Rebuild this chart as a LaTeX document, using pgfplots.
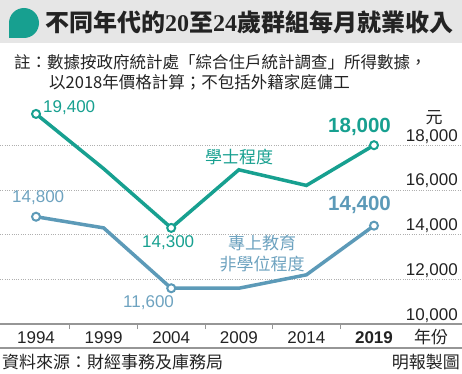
\documentclass[border=0pt]{standalone}
\usepackage{pgfplots}
\pgfplotsset{compat=1.18}
\usepackage{fontspec}
\setmainfont{Liberation Sans}
\newfontfamily\cjk{Noto Sans CJK TC}
\newfontfamily\serifd{Liberation Serif}
\definecolor{teal1}{RGB}{23,160,144}
\definecolor{blue1}{RGB}{92,154,184}
\definecolor{bluetext}{RGB}{110,163,192}
\definecolor{axisgray}{RGB}{150,150,150}
\definecolor{gridgray}{RGB}{175,175,175}
\definecolor{bandgray}{RGB}{230,230,230}
\definecolor{textdark}{RGB}{35,35,35}
\begin{document}
\begin{tikzpicture}[x=1pt,y=1pt]
\useasboundingbox (0,0) rectangle (462,373);
\fill[white] (0,0) rectangle (462,373);
% header band
\fill[bandgray] (0,330) rectangle (462,373);
\fill[teal1] (24,350) circle (15);
\fill[teal1] (9,350) rectangle (24,335);
\node[anchor=west, inner sep=0pt, text=textdark] at (45,351)
  {\fontsize{24}{24}\selectfont\cjk\bfseries 不同年代的{\serifd\bfseries 20}至{\serifd\bfseries 24}歲群組每月就業收入};
% note
\node[anchor=west, inner sep=0pt, text=textdark] at (14,311)
  {\fontsize{16.5}{16.5}\selectfont\cjk 註：數據按政府統計處「綜合住戶統計調查」所得數據，};
\node[anchor=west, inner sep=0pt, text=textdark] at (49,291)
  {\fontsize{16.5}{16.5}\selectfont\cjk 以2018年價格計算；不包括外籍家庭傭工};
\begin{axis}[
  at={(0pt,49pt)}, anchor=south west,
  width=462pt, height=223.5pt, scale only axis,
  xmin=-0.533, xmax=6.302, ymin=10000, ymax=20000,
  axis x line*=bottom, axis y line*=right,
  separate axis lines,
  x axis line style={draw=axisgray, line width=1.5pt, -},
  y axis line style={draw=none},
  xtick={0,1,2,3,4,5},
  xticklabels={1994,1999,2004,2009,2014,\textbf{2019}},
  extra x ticks={0.5,1.5,2.5,3.5,4.5},
  extra x tick labels={},
  extra x tick style={major tick length=5pt, tick align=outside, grid=none,
    tick style={draw=axisgray, line width=1pt}},
  major tick length=0pt,
  ytick={10000,12000,14000,16000,18000},
  ymajorgrids, grid style={dash pattern=on 0.7pt off 1.6pt, draw=gridgray, line width=0.6pt},
  scaled y ticks=false,
  /pgf/number format/1000 sep={,},
  /pgf/number format/assume math mode=true,
  tick label style={font=\fontsize{17}{17}\selectfont, text=textdark},
  yticklabel style={anchor=base east, inner sep=1pt, xshift=-3pt, yshift=4pt},
  xticklabel style={anchor=base, inner sep=0pt, yshift=-19pt},
  clip=false,
]
\addplot[teal1, line width=3.5pt, mark=*, mark size=4pt, mark indices={1,3,6},
  mark options={fill=white, draw=teal1, line width=2pt}]
  coordinates {(0,19400) (1,16950) (2,14300) (3,16900) (4,16200) (5,18000)};
\addplot[blue1, line width=3.5pt, mark=*, mark size=4pt, mark indices={1,3,6},
  mark options={fill=white, draw=blue1, line width=2pt}]
  coordinates {(0,14800) (1,14300) (2,11600) (3,11600) (4,12200) (5,14400)};
\end{axis}
% data labels
\begin{scope}[every node/.style={inner sep=0pt}]
\node[anchor=west, text=teal1] at (43,265) {\fontsize{17}{17}\selectfont 19,400};
\node[anchor=west, text=bluetext] at (12,175) {\fontsize{17}{17}\selectfont 14,800};
\node[anchor=west, text=teal1] at (142,130) {\fontsize{17}{17}\selectfont 14,300};
\node[anchor=west, text=bluetext] at (123,70) {\fontsize{17}{17}\selectfont 11,600};
\node[anchor=west, text=teal1] at (328,246) {\fontsize{20.5}{20.5}\selectfont\bfseries 18,000};
\node[anchor=west, text=blue1] at (328,168) {\fontsize{20.5}{20.5}\selectfont\bfseries 14,400};
\node[text=teal1] at (239,216) {\fontsize{17}{17}\selectfont\cjk 學士程度};
\node[text=bluetext] at (262,130) {\fontsize{17}{17}\selectfont\cjk 專上教育};
\node[text=bluetext] at (262,109) {\fontsize{17}{17}\selectfont\cjk 非學位程度};
\node[text=textdark] at (434,255) {\fontsize{17}{17}\selectfont\cjk 元};
\node[text=textdark] at (431,36) {\fontsize{17}{17}\selectfont\cjk 年份};
\end{scope}
% bottom rule and source
\draw[axisgray, line width=1.2pt] (0,25) -- (462,25);
\node[anchor=west, inner sep=0pt, text=textdark] at (2,11) {\fontsize{17}{17}\selectfont\cjk 資料來源：財經事務及庫務局};
\node[anchor=east, inner sep=0pt, text=textdark] at (460,11) {\fontsize{17}{17}\selectfont\cjk 明報製圖};
\end{tikzpicture}
\end{document}
